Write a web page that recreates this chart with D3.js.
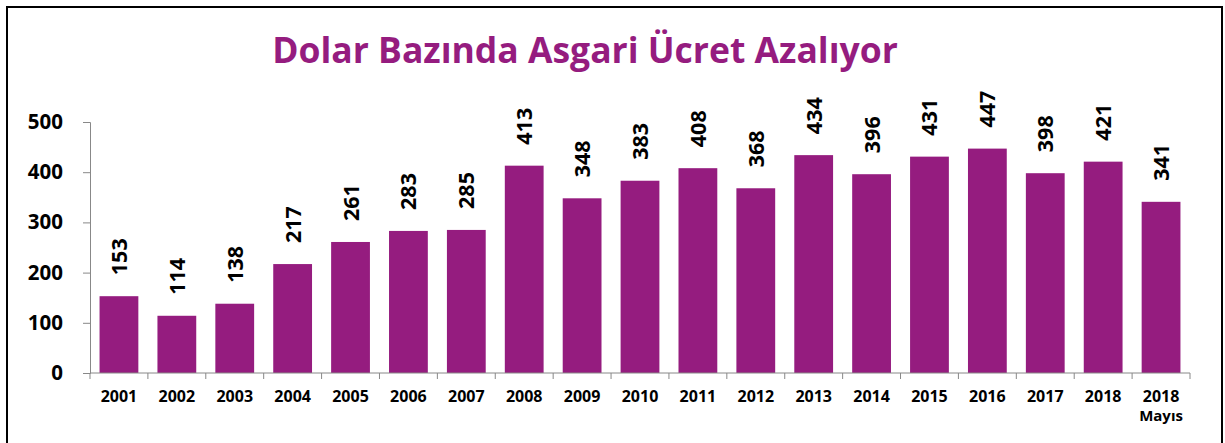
<!DOCTYPE html>
<html>
<head>
<meta charset="utf-8">
<script src="https://cdn.jsdelivr.net/npm/d3@7"></script>
<style>
  body { margin: 0; background: #fff; }
  svg { font-family: "Open Sans", "Lato", sans-serif; }
</style>
</head>
<body>
<div id="chart"></div>
<script>
// yillar ve degerler (dolar bazinda asgari ucret)
let years = ['2001','2002','2003','2004','2005','2006','2007','2008','2009','2010',
             '2011','2012','2013','2014','2015','2016','2017','2018','2018 Mayıs'];
let values = [153,114,138,217,261,283,285,413,348,383,408,368,434,396,431,447,398,421,341];
let yTicks = [0,100,200,300,400,500];

let width = 1225, height = 443;
let plotLeft = 90, plotRight = 1190, plotTop = 122, plotBottom = 373;
let barColor = '#951C7F';

let svg = d3.select('#chart').append('svg')
  .attr('width', width)
  .attr('height', height);

// outer frame
svg.append('rect')
  .attr('x', 7).attr('y', 7)
  .attr('width', 1215).attr('height', 445)
  .attr('fill', 'none')
  .attr('stroke', '#000')
  .attr('stroke-width', 2);

svg.append('text')
  .attr('x', 585).attr('y', 63)
  .attr('text-anchor', 'middle')
  .attr('font-size', 35.5)
  .attr('font-weight', 'bold')
  .attr('fill', barColor)
  .text('Dolar Bazında Asgari Ücret Azalıyor');

let x = d3.scaleBand()
  .domain(years)
  .range([plotLeft, plotRight])
  .paddingInner(0.33)
  .paddingOuter(0.165);

let y = d3.scaleLinear()
  .domain([0, 500])
  .range([plotBottom, plotTop]);

// y axis
let yAxis = svg.append('g')
  .attr('transform', 'translate(' + plotLeft + ',0)')
  .call(d3.axisLeft(y).tickValues(yTicks).tickSize(7).tickPadding(20));
yAxis.select('.domain').attr('stroke', '#888');
yAxis.selectAll('line').attr('stroke', '#888');
yAxis.selectAll('text')
  .attr('font-size', 20.5)
  .attr('font-weight', 'bold')
  .attr('fill', '#000')
  .attr('font-family', '"Open Sans", sans-serif');

// bars
svg.selectAll('rect.bar')
  .data(values)
  .enter()
  .append('rect')
  .attr('class', 'bar')
  .attr('x', (d, i) => x(years[i]))
  .attr('y', d => y(d))
  .attr('width', x.bandwidth())
  .attr('height', d => plotBottom - y(d))
  .attr('fill', barColor);

// x axis line and ticks at band edges
svg.append('line')
  .attr('x1', plotLeft).attr('x2', plotRight)
  .attr('y1', plotBottom).attr('y2', plotBottom)
  .attr('stroke', '#888');
let step = x.step();
svg.selectAll('line.xtick')
  .data(d3.range(years.length + 1))
  .enter()
  .append('line')
  .attr('class', 'xtick')
  .attr('x1', i => plotLeft + i * step)
  .attr('x2', i => plotLeft + i * step)
  .attr('y1', plotBottom)
  .attr('y2', plotBottom + 6)
  .attr('stroke', '#888');

// x labels
svg.selectAll('text.xl')
  .data(years)
  .enter()
  .append('text')
  .attr('class', 'xl')
  .attr('x', d => x(d) + x.bandwidth() / 2)
  .attr('y', 402)
  .attr('text-anchor', 'middle')
  .attr('font-size', 16)
  .attr('font-weight', 'bold')
  .text(d => d.split(' ')[0]);
svg.selectAll('text.xl2')
  .data(years.filter(d => d.indexOf(' ') > 0))
  .enter()
  .append('text')
  .attr('class', 'xl2')
  .attr('x', d => x(d) + x.bandwidth() / 2)
  .attr('y', 421)
  .attr('text-anchor', 'middle')
  .attr('font-size', 15)
  .attr('font-weight', 'bold')
  .text(d => d.split(' ')[1]);

// value labels, rotated
svg.selectAll('text.val')
  .data(values)
  .enter()
  .append('text')
  .attr('class', 'val')
  .attr('transform', (d, i) => 'translate(' + (x(years[i]) + x.bandwidth() / 2 + 8) + ',' + (y(d) - 21) + ') rotate(-90)')
  .attr('font-size', 21.5)
  .attr('font-weight', 'bold')
  .attr('fill', '#000')
  .text(d => d);
</script>
</body>
</html>
